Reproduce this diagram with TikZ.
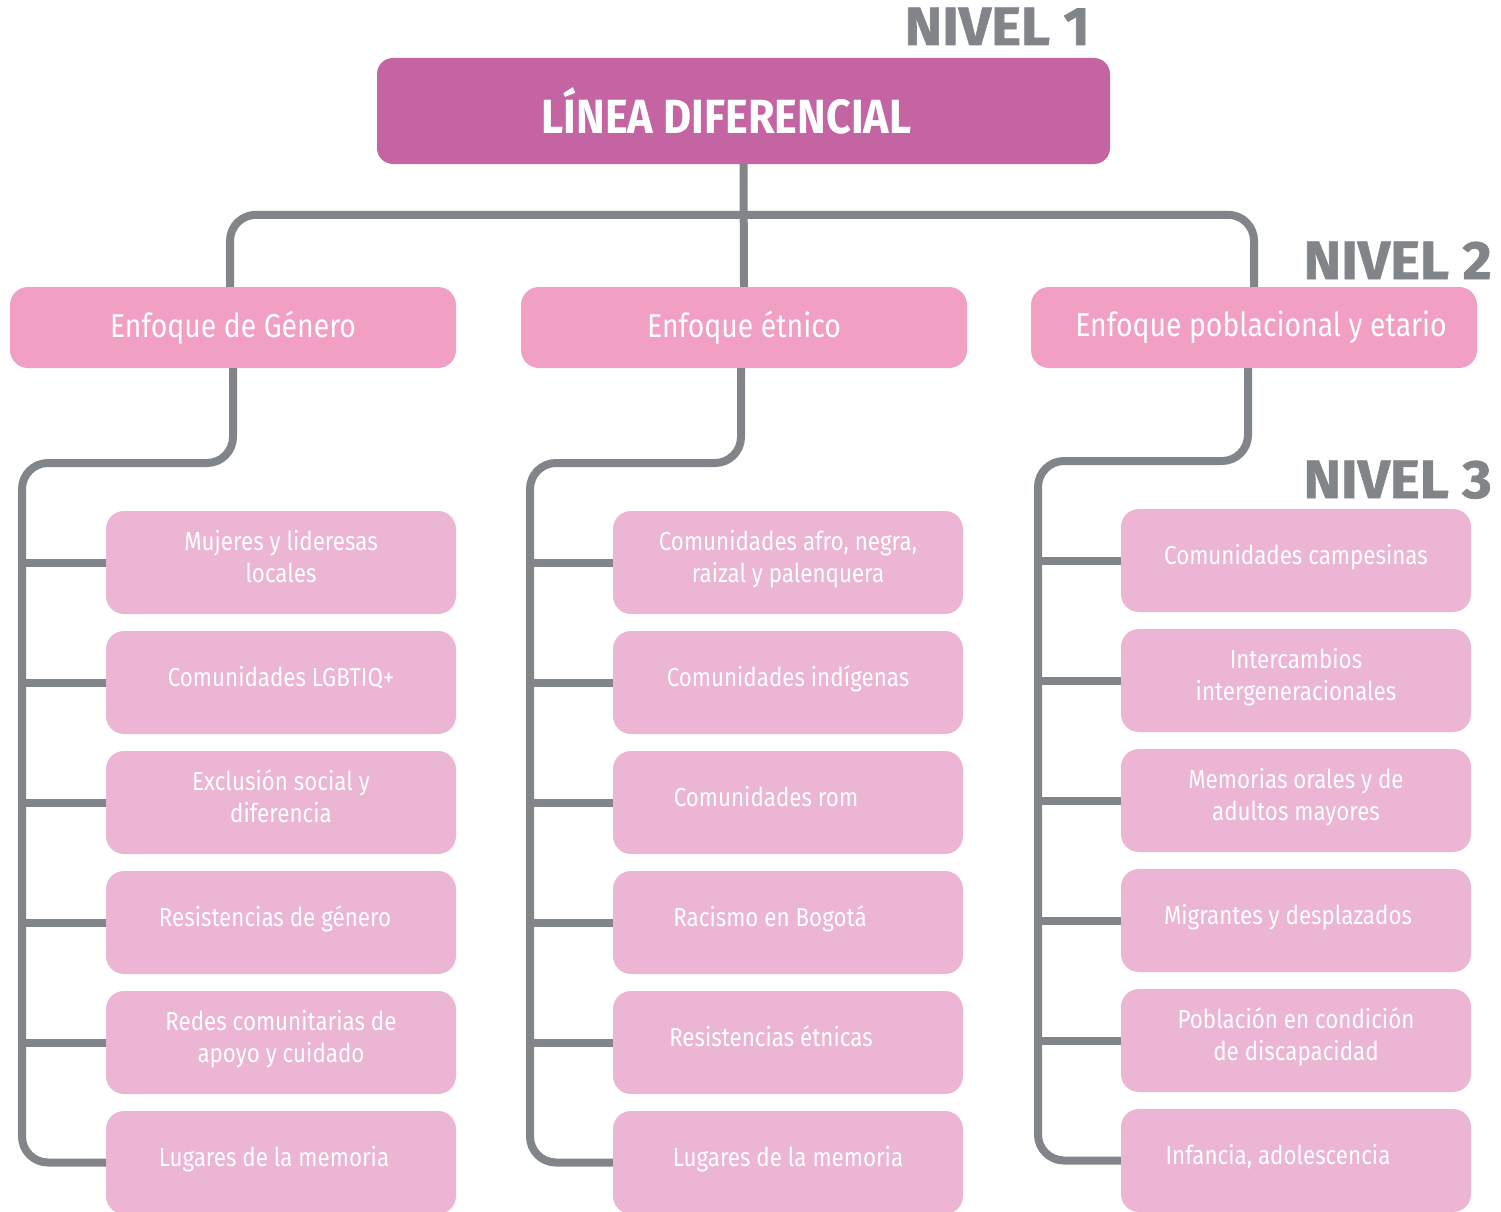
\documentclass[tikz,border=0pt]{standalone}
\usepackage{fontspec}
\setmainfont{Fira Sans}[FakeStretch=0.86]
\newfontfamily\titfont{Fira Sans}[FakeStretch=0.9]
\newfontfamily\nivfont{Fira Sans}[FakeStretch=1.05,FakeBold=1.2]
\definecolor{cA}{HTML}{C564A3}
\definecolor{cB}{HTML}{F29FC4}
\definecolor{cC}{HTML}{EBB5D3}
\definecolor{lg}{HTML}{818488}
\newcommand\lsh[1]{\hspace*{-#1pt}}
\begin{document}
\begin{tikzpicture}[x=1pt,y=-1pt,
  conn/.style={draw=lg, line width=8pt, rounded corners=26pt},
  stub/.style={draw=lg, line width=8pt},
  lvlA/.style={fill=cA, rounded corners=16pt, minimum width=733pt, minimum height=106pt, inner sep=0pt, text=white, font=\titfont\bfseries\fontsize{48}{52}\selectfont},
  lvlB/.style={fill=cB, rounded corners=18pt, minimum width=446pt, minimum height=81pt, inner sep=0pt, text=white, font=\fontsize{33}{38}\selectfont},
  lvlC/.style={fill=cC, rounded corners=18pt, minimum width=350pt, minimum height=103pt, inner sep=0pt, text=white, align=center, text depth=13pt, font=\fontsize{26}{32}\selectfont},
  niv/.style={text=lg, anchor=base east, inner sep=0pt, font=\nivfont\bfseries\fontsize{54}{54}\selectfont}]
\useasboundingbox (0,0) rectangle (1501,1212);
% level 1
\node[lvlA] (top) at (743.5,111) {\lsh{34}LÍNEA DIFERENCIAL};
\node[niv] (n1) at (1090,45) {NIVEL 1};
% level 2
\node[lvlB] (g1) at (233,327.5) {Enfoque de Género};
\node[lvlB] (g2) at (744,327.5) {Enfoque étnico};
\node[lvlB] (g3) at (1254,327.5) {\hspace*{14pt}Enfoque poblacional y etario};
\node[niv] (n2) at (1492,279) {NIVEL 2};
\node[niv] (n3) at (1492,498) {NIVEL 3};
% level 3, column 1
\node[lvlC] (a1) at (281,562.5) {Mujeres y lideresas\\locales};
\node[lvlC] (a2) at (281,682.5) {Comunidades LGBTIQ+};
\node[lvlC] (a3) at (281,802.5) {Exclusión social y\\diferencia};
\node[lvlC] (a4) at (281,922.5) {\lsh{12}Resistencias de género};
\node[lvlC] (a5) at (281,1042.5) {Redes comunitarias de\\apoyo y cuidado};
\node[lvlC] (a6) at (281,1162.5) {\lsh{14}Lugares de la memoria};
% column 2
\node[lvlC] (b1) at (788,562.5) {Comunidades afro, negra,\\raizal y palenquera};
\node[lvlC] (b2) at (788,682.5) {Comunidades indígenas};
\node[lvlC] (b3) at (788,802.5) {\lsh{44}Comunidades rom};
\node[lvlC] (b4) at (788,922.5) {\lsh{36}Racismo en Bogotá};
\node[lvlC] (b5) at (788,1042.5) {\lsh{34}Resistencias étnicas};
\node[lvlC] (b6) at (788,1162.5) {Lugares de la memoria};
% column 3
\node[lvlC] (c1) at (1296,560.5) {Comunidades campesinas};
\node[lvlC] (c2) at (1296,680.5) {Intercambios\\intergeneracionales};
\node[lvlC] (c3) at (1296,800.5) {Memorias orales y de\\adultos mayores};
\node[lvlC] (c4) at (1296,920.5) {\lsh{16}Migrantes y desplazados};
\node[lvlC] (c5) at (1296,1040.5) {Población en condición\\de discapacidad};
\node[lvlC] (c6) at (1296,1160.5) {\lsh{36}Infancia, adolescencia};
% connectors
\coordinate (t1) at (22,463);
\coordinate (t2) at (530,463);
\coordinate (t3) at (1038,461);
\draw[stub] (top.south) -- (g2.north);
\draw[conn] ([xshift=-3pt]g1.north) -- ++(0,-72) -| (g3.north);
\draw[conn] (g1.south) |- (t1) |- (a6.west);
\draw[conn] ([xshift=-3pt]g2.south) |- (t2) |- (b6.west);
\draw[conn] ([xshift=-6pt]g3.south) |- (t3) |- (c6.west);
\foreach \n in {a1,a2,a3,a4,a5}{\draw[stub] (\n.west -| t1) -- (\n.west);}
\foreach \n in {b1,b2,b3,b4,b5}{\draw[stub] (\n.west -| t2) -- (\n.west);}
\foreach \n in {c1,c2,c3,c4,c5}{\draw[stub] (\n.west -| t3) -- (\n.west);}
\end{tikzpicture}
\end{document}
